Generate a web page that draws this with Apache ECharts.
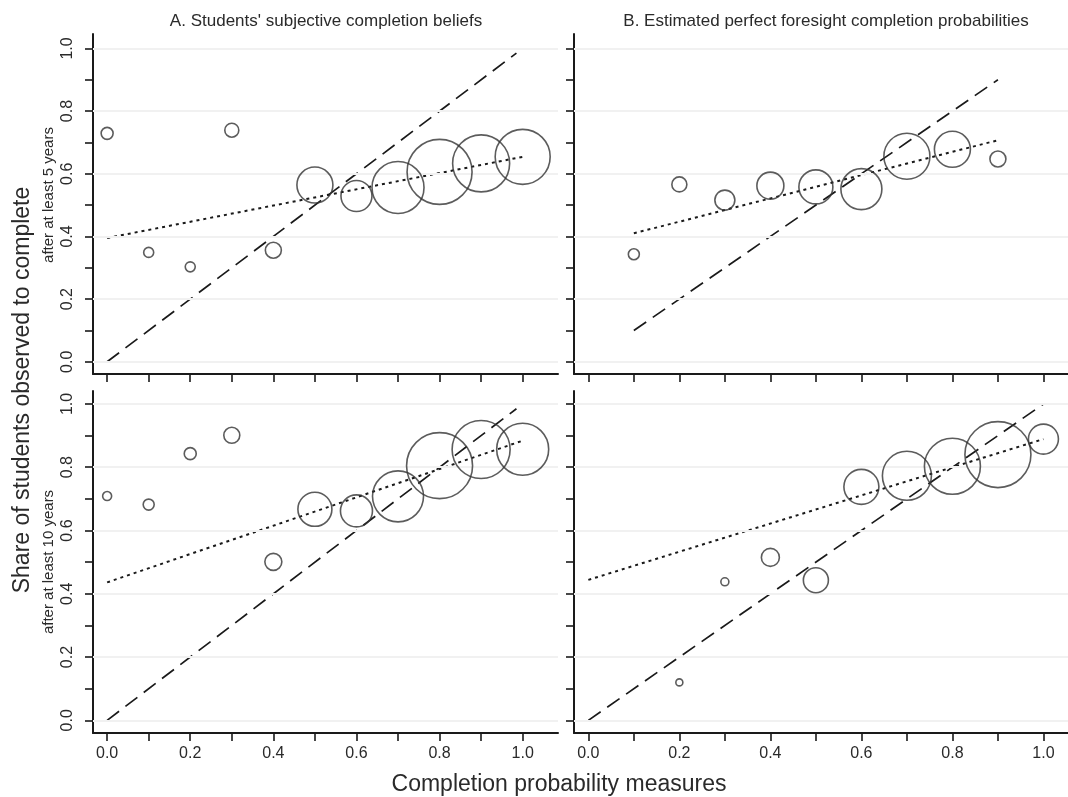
<!DOCTYPE html>
<html>
<head>
<meta charset="utf-8">
<script src="https://cdn.jsdelivr.net/npm/echarts@6/dist/echarts.min.js"></script>
<style>
html,body{margin:0;padding:0;background:#fff;}
#chart{width:1068px;height:797px;}
</style>
</head>
<body>
<div id="chart"></div>
<script>
// ---------- data ----------
const panelTitles = ["A. Students' subjective completion beliefs", "B. Estimated perfect foresight completion probabilities"];
const rowLabels = ["after at least 5 years", "after at least 10 years"];
const yTitle = "Share of students observed to complete";
const xTitle = "Completion probability measures";

const tickVals = [0.0, 0.1, 0.2, 0.3, 0.4, 0.5, 0.6, 0.7, 0.8, 0.9, 1.0];
const labelVals = [0.0, 0.2, 0.4, 0.6, 0.8, 1.0];

// Panel A, 5 years
const xA = [0.0, 0.1, 0.2, 0.3, 0.4, 0.5, 0.6, 0.7, 0.8, 0.9, 1.0];
const shareA5 = [0.729, 0.349, 0.303, 0.739, 0.356, 0.564, 0.529, 0.556, 0.606, 0.633, 0.654];
const weightA5 = [144, 100, 100, 196, 256, 1296, 961, 2704, 4225, 3249, 3025];
const fitA5X = [0.0, 1.0];
const fitA5Y = [0.395, 0.654];
const diagA5 = [0.0, 0.985];

// Panel B, 5 years
const xB5 = [0.1, 0.2, 0.3, 0.4, 0.5, 0.6, 0.7, 0.8, 0.9];
const shareB5 = [0.343, 0.566, 0.516, 0.562, 0.558, 0.551, 0.656, 0.678, 0.647];
const weightB5 = [121, 225, 400, 729, 1156, 1681, 2116, 1296, 256];
const fitB5X = [0.1, 0.9];
const fitB5Y = [0.41, 0.707];
const diagB5 = [0.1, 0.9];

// Panel A, 10 years
const shareA10 = [0.709, 0.682, 0.843, 0.901, 0.501, 0.667, 0.662, 0.708, 0.805, 0.856, 0.857];
const weightA10 = [81, 121, 144, 256, 289, 1156, 1024, 2601, 4356, 3364, 2704];
const fitA10X = [0.0, 1.0];
const fitA10Y = [0.436, 0.884];
const diagA10 = [0.0, 0.985];

// Panel B, 10 years
const xB10 = [0.2, 0.3, 0.4, 0.5, 0.6, 0.7, 0.8, 0.9, 1.0];
const shareB10 = [0.12, 0.438, 0.515, 0.443, 0.738, 0.773, 0.803, 0.840, 0.889];
const weightB10 = [49, 64, 324, 625, 1225, 2401, 3136, 4356, 900];
const fitB10X = [0.0, 1.0];
const fitB10Y = [0.444, 0.889];
const diagB10 = [0.0, 1.0];

// ---------- layout / style ----------
const FONT = "'Liberation Sans', Arial, Helvetica, sans-serif";
const INK = '#1a1a1a';
const TXT = '#2a2a2a';

const grids = [
  {left: 93, top: 34, width: 465, height: 340},
  {left: 574, top: 34, width: 494, height: 340},
  {left: 93, top: 391, width: 465, height: 342},
  {left: 574, top: 391, width: 494, height: 342}
];
const xRanges = [[-0.034, 1.085], [-0.0315, 1.054], [-0.034, 1.085], [-0.0315, 1.054]];
const yRanges = [[-0.039, 1.046], [-0.039, 1.046], [-0.040, 1.041], [-0.040, 1.041]];

const panels = [
  {x: xA, y: shareA5, w: weightA5, fx: fitA5X, fy: fitA5Y, d: diagA5},
  {x: xB5, y: shareB5, w: weightB5, fx: fitB5X, fy: fitB5Y, d: diagB5},
  {x: xA, y: shareA10, w: weightA10, fx: fitA10X, fy: fitA10Y, d: diagA10},
  {x: xB10, y: shareB10, w: weightB10, fx: fitB10X, fy: fitB10Y, d: diagB10}
];

const xAxes = grids.map((g, i) => ({
  type: 'value', gridIndex: i, min: xRanges[i][0], max: xRanges[i][1],
  axisLine: {show: true, onZero: false, lineStyle: {color: INK, width: 2}},
  axisTick: {show: true, customValues: tickVals, length: 8, lineStyle: {color: INK, width: 1.6}},
  axisLabel: {show: i >= 2, customValues: labelVals, formatter: v => v.toFixed(1),
    fontSize: 16, color: TXT, fontFamily: FONT, margin: 13},
  splitLine: {show: false}
}));

const yAxes = grids.map((g, i) => ({
  type: 'value', gridIndex: i, min: yRanges[i][0], max: yRanges[i][1],
  axisLine: {show: true, onZero: false, lineStyle: {color: INK, width: 2}},
  axisTick: {show: true, customValues: tickVals, length: 8, lineStyle: {color: INK, width: 1.6}},
  axisLabel: {show: i % 2 === 0, customValues: labelVals, formatter: v => v.toFixed(1), rotate: 90,
    fontSize: 16, color: TXT, fontFamily: FONT, margin: 17},
  splitLine: {show: false}
}));

const series = [];
panels.forEach((p, i) => {
  // gridlines
  series.push({
    type: 'line', xAxisIndex: i, yAxisIndex: i, data: [], z: 1, silent: true,
    markLine: {
      silent: true, symbol: ['none', 'none'], animation: false,
      label: {show: false},
      lineStyle: {color: '#f1f1f1', width: 2, type: 'solid'},
      data: labelVals.map(v => ({yAxis: v}))
    }
  });
  // 45-degree line
  series.push({
    type: 'line', xAxisIndex: i, yAxisIndex: i, z: 3, silent: true, symbol: 'none',
    data: p.d.map(v => [v, v]),
    lineStyle: {color: INK, width: 1.7, type: [15, 8]}
  });
  // fitted line
  series.push({
    type: 'line', xAxisIndex: i, yAxisIndex: i, z: 4, silent: true, symbol: 'none',
    data: p.fx.map((v, k) => [v, p.fy[k]]),
    lineStyle: {color: INK, width: 2, type: [3, 4]}
  });
  // bubbles
  series.push({
    type: 'scatter', xAxisIndex: i, yAxisIndex: i, z: 5, silent: true,
    data: p.x.map((v, k) => [v, p.y[k], p.w[k]]),
    symbol: 'circle',
    symbolSize: val => Math.sqrt(val[2]),
    itemStyle: {color: 'rgba(0,0,0,0)', borderColor: '#333333', borderWidth: 1.6}
  });
});

const txt = (text, x, y, size, rot) => ({
  type: 'text', x: x, y: y, rotation: rot || 0, silent: true,
  style: {text: text, fill: TXT, font: size + 'px ' + FONT,
    align: 'center', verticalAlign: 'middle', textAlign: 'center', textVerticalAlign: 'middle'}
});

const option = {
  animation: false,
  backgroundColor: '#ffffff',
  grid: grids,
  xAxis: xAxes,
  yAxis: yAxes,
  series: series,
  graphic: [
    txt(panelTitles[0], 326, 21, 17),
    txt(panelTitles[1], 826, 21, 17),
    txt(rowLabels[0], 48.5, 195, 15, Math.PI / 2),
    txt(rowLabels[1], 49, 562, 15, Math.PI / 2),
    txt(yTitle, 23, 390, 23, Math.PI / 2),
    txt(xTitle, 559, 785, 23)
  ]
};

const chart = echarts.init(document.getElementById('chart'), null, {renderer: 'canvas'});
chart.setOption(option);
</script>
</body>
</html>
